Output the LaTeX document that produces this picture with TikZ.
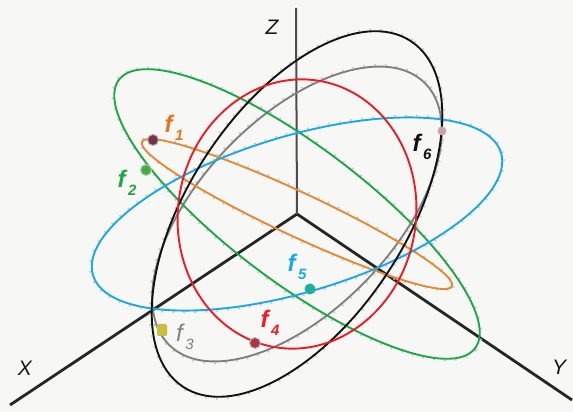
\documentclass[tikz,border=0pt]{standalone}
\usepackage{fontspec}
\setmainfont{Liberation Sans}
\definecolor{bgc}{RGB}{247,248,246}
\definecolor{cgreen}{RGB}{30,166,72}
\definecolor{corange}{RGB}{228,138,52}
\definecolor{cblue}{RGB}{28,168,230}
\definecolor{cred}{RGB}{236,28,36}
\definecolor{cgray}{RGB}{128,128,128}
\definecolor{cblack}{RGB}{18,18,18}
\definecolor{laborange}{RGB}{226,118,30}
\newcommand{\flab}[1]{\textbf{\textit{f}}\kern0.5pt\raisebox{-0.35em}{\fontsize{15}{15}\selectfont\bfseries\itshape #1}}
\begin{document}
\begin{tikzpicture}[x=1pt,y=1pt,
  curve/.style={line width=1.9pt},
  speck/.style={draw=gray!45, line width=2.2pt, line cap=round, dash pattern=on 0pt off 11pt},
  axis/.style={draw=black!85, line width=2.8pt},
  axislab/.style={font=\fontsize{21}{21}\selectfont\itshape, text=black!90},
  flabel/.style={font=\fontsize{24}{24}\selectfont},
  dot/.style={circle, inner sep=0pt, minimum size=11pt}]
\fill[bgc] (0,0) rectangle (573,412);
\useasboundingbox (0,0) rectangle (573,412);
\coordinate (O) at (297,198);
\coordinate (Xe) at (10,7);
\coordinate (Ye) at (572,12);
\coordinate (Ze) at (296,404);
% axes
\draw[axis] (O) -- (Xe);
\draw[axis] (O) -- (Ye);
\draw[draw=black!70, line width=2pt] (O) -- (Ze);
\node[axislab] (lx) at (25,44) {X};
\node[axislab] (ly) at (559,45) {Y};
\node[axislab] (lz) at (272,385) {Z};
% specks
\begin{scope}[shift={(O)}]
\draw[speck, rotate=45.9] (0,0) ellipse [x radius=185pt, y radius=98pt];
\draw[speck, rotate=56.6] (0,0) ellipse [x radius=209pt, y radius=110pt];
\draw[speck, rotate=-37] (0,0) ellipse [x radius=225pt, y radius=70pt];
\draw[speck, rotate=-25] (0,0) ellipse [x radius=173pt, y radius=24pt];
\draw[speck, rotate=16.7] (0,0) ellipse [x radius=215pt, y radius=80pt];
% ellipses
\draw[curve, cgray, rotate=45.9] (0,0) ellipse [x radius=183pt, y radius=96pt];
\draw[curve, cgreen, rotate=-37] (0,0) ellipse [x radius=223pt, y radius=68pt];
\draw[curve, corange, rotate=-25] (0,0) ellipse [x radius=171pt, y radius=22pt];
\draw[curve, cblue, rotate=16.7] (0,0) ellipse [x radius=213pt, y radius=78pt];
\draw[curve, cblack, rotate=56.6] (0,0) ellipse [x radius=207pt, y radius=108pt];
\draw[curve, cred, rotate=80.9] (0,0) ellipse [x radius=135pt, y radius=119pt];
\end{scope}
% points
\node[dot, fill={rgb,255:red,120;green,50;blue,70}, draw=gray!60, line width=1pt] (p1) at (153,272) {};
\node[dot, fill={rgb,255:red,70;green,170;blue,70}, draw=green!30!gray!50, line width=1pt] (p2) at (146,242) {};
\node[dot, rectangle, rounded corners=2pt, minimum width=10pt, minimum height=12pt, fill={rgb,255:red,200;green,192;blue,60}] (p3) at (162,82) {};
\node[dot, fill={rgb,255:red,180;green,50;blue,70}, draw=gray!50, line width=1pt] (p4) at (255,69) {};
\node[dot, fill={rgb,255:red,30;green,175;blue,160}] (p5) at (310,123) {};
\node[dot, minimum size=9pt, fill={rgb,255:red,200;green,165;blue,175}] (p6) at (442,281) {};
% labels
\node[flabel, text=laborange] (l1) at (174,284) {\flab{1}};
\node[flabel, text=cgreen] (l2) at (127,229) {\flab{2}};
\node[flabel, text=cgray] (l3) at (185,75) {\textit{f}\kern0.5pt\raisebox{-0.35em}{\fontsize{15}{15}\selectfont\itshape 3}};
\node[flabel, text=cred] (l4) at (270,89) {\flab{4}};
\node[flabel, text=cblue] (l5) at (297,145) {\flab{5}};
\node[flabel, text=cblack] (l6) at (422,265) {\flab{6}};
\end{tikzpicture}
\end{document}
